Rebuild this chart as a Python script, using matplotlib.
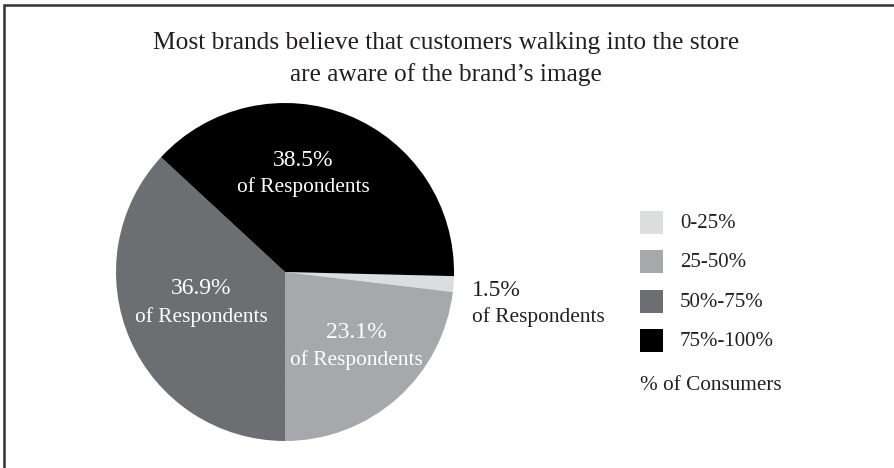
import matplotlib

matplotlib.use("Agg")
import matplotlib.pyplot as plt
from matplotlib.patches import Rectangle

# survey share of respondents per awareness bucket
buckets = ["0-25%", "25-50%", "50%-75%", "75%-100%"]
shares = [1.5, 23.1, 36.9, 38.5]
colors = ["#dcdddf", "#a7a8ab", "#6d6e72", "#000000"]

title = "Most brands believe that customers walking into the store\nare aware of the brand\u2019s image"
legend_title = "% of Consumers"

W, H = 894, 468
SERIF = ["Liberation Serif", "DejaVu Serif"]

# label anchors (image px, y from top): x, number y, caption y, alignment
label_pos = [
    (472, 291, 317, "left"),
    (356, 333, 360, "center"),
    (201, 289, 317, "center"),
    (303, 160, 187, "center"),
]
label_color = ["#231f20", "white", "white", "white"]


def Y(y):
    return H - y


fig = plt.figure(figsize=(W / 100, H / 100), dpi=100)
ax = fig.add_axes([0, 0, 1, 1])

ax.pie(shares, colors=colors, center=(285, Y(272)), radius=169,
       startangle=-1.4, counterclock=False,
       wedgeprops={"linewidth": 0})

# pie() resets the limits, so put the pixel frame back afterwards
ax.set_xlim(0, W)
ax.set_ylim(0, H)
ax.set_aspect("equal")
ax.axis("off")

# outer frame
ax.add_patch(Rectangle((4, Y(H + 10)), W + 10, H + 10 - 5, fill=False,
                       edgecolor="#333333", linewidth=1.8))

ax.text(446, Y(59), title, ha="center", va="center", fontsize=18.3,
        family=SERIF, color="#231f20", linespacing=1.48)

for share, (x, ny, cy, ha), col in zip(shares, label_pos, label_color):
    ax.text(x, Y(ny), f"{share:.1f}%", ha=ha, va="center", fontsize=17,
            family=SERIF, color=col)
    ax.text(x, Y(cy), "of Respondents", ha=ha, va="center", fontsize=15.4,
            family=SERIF, color=col)

# legend
for i, (name, col) in enumerate(zip(buckets, colors)):
    yc = 222 + i * 39.6
    ax.add_patch(Rectangle((640, Y(yc + 11.5)), 23, 23, facecolor=col,
                           edgecolor="none"))
    ax.text(680, Y(yc + 1), name, ha="left", va="center", fontsize=15,
            family=SERIF, color="#231f20")
ax.text(640, Y(385), legend_title, ha="left", va="center", fontsize=15.3,
        family=SERIF, color="#231f20")

fig.savefig("out.png", dpi=100)
plt.close(fig)
